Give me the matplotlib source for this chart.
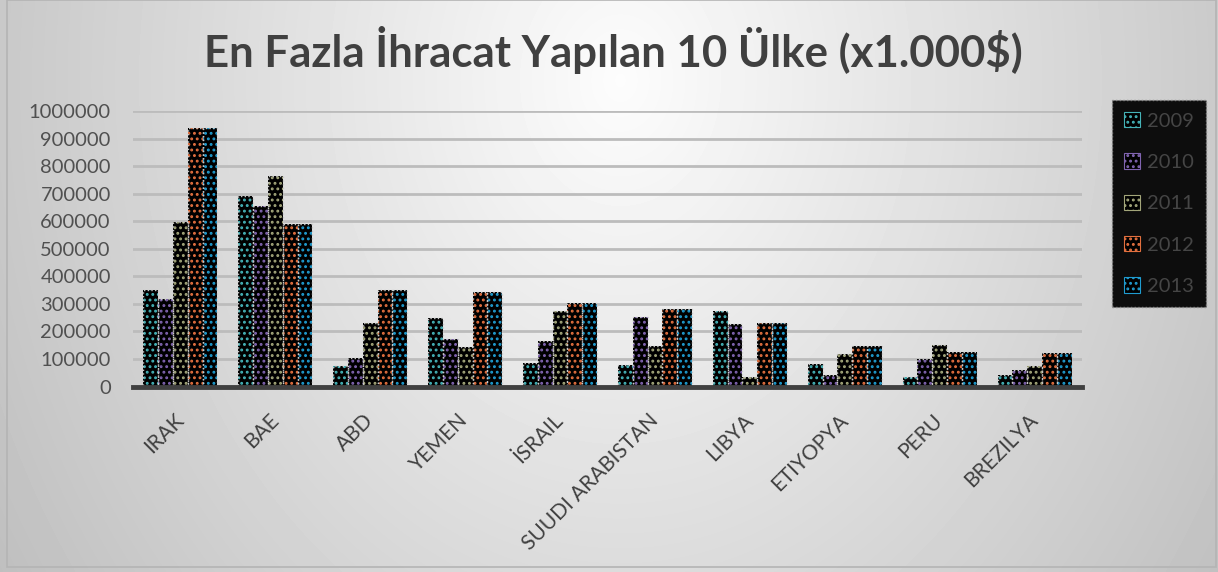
import numpy as np
import matplotlib
matplotlib.use("Agg")
import matplotlib.pyplot as plt
from matplotlib.patches import Patch, Rectangle

plt.rcParams['font.family'] = ['Lato', 'DejaVu Sans']
plt.rcParams['hatch.linewidth'] = 1.3

## Data (x1.000 $)
countries = ["IRAK", "BAE", "ABD", "YEMEN", "İSRAIL", "SUUDI ARABISTAN",
             "LIBYA", "ETIYOPYA", "PERU", "BREZILYA"]
years = ["2009", "2010", "2011", "2012", "2013"]
v2009 = [350000, 693000, 76000, 250000, 86000, 79000, 275000, 83000, 36000, 43000]
v2010 = [316000, 656000, 102000, 171000, 166000, 253000, 228000, 42000, 101000, 61000]
v2011 = [597000, 765000, 229000, 145000, 275000, 148000, 36000, 119000, 152000, 76000]
v2012 = [938000, 591000, 351000, 344000, 304000, 282000, 232000, 147000, 126000, 121000]
v2013 = [938000, 591000, 351000, 344000, 304000, 282000, 232000, 147000, 126000, 121000]
series = [v2009, v2010, v2011, v2012, v2013]
colors = ['#45b3b8', '#8064b0', '#a3a67a', '#e3703f', '#1f9cd0']

W, H = 1218, 572
fig = plt.figure(figsize=(W / 100, H / 100), dpi=100)

# soft radial background
bg = fig.add_axes([0, 0, 1, 1])
yy, xx = np.mgrid[0:H, 0:W]
r = np.sqrt(((xx - 620) / 640.0) ** 2 + ((yy - 80) / 800.0) ** 2)
shade = np.clip(0.99 - 0.21 * r, 0, 1)
bg.imshow(shade, cmap='gray', vmin=0, vmax=1, aspect='auto',
          extent=[0, W, H, 0], interpolation='bilinear')
bg.set_xlim(0, W)
bg.set_ylim(H, 0)
bg.add_patch(Rectangle((7, 0), W - 9, 567, fill=False, edgecolor='#b4b4b4', lw=1.2))
bg.axis('off')

ax = fig.add_axes([133 / W, 1 - 386.5 / H, (1082 - 133) / W, (386.5 - 111) / H])
ax.patch.set_alpha(0)

x = np.arange(len(countries))
bw = 0.156
for i, (vals, c) in enumerate(zip(series, colors)):
    pos = x - 2 * bw + i * bw
    ax.bar(pos, vals, bw, color='black', edgecolor=c, hatch='...', linewidth=0, zorder=3)
    ax.bar(pos, vals, bw, fill=False, edgecolor='#c8c8c8', linestyle=':', linewidth=1.0, zorder=4)

ax.set_xlim(-0.5, len(countries) - 0.5)
ax.set_ylim(0, 1000000)
ax.set_yticks(np.arange(0, 1000001, 100000))
ax.set_yticklabels([str(v) for v in range(0, 1000001, 100000)], fontsize=14.5, color='#505050')
ax.yaxis.grid(True, color='#bcbcbc', linewidth=2, zorder=0)
ax.set_axisbelow(True)
ax.tick_params(axis='y', length=0, pad=16)
ax.tick_params(axis='x', length=0, pad=22)
ax.set_xticks(x)
ax.set_xticklabels(countries, rotation=45, ha='right', va='center', rotation_mode='anchor',
                   fontsize=15, color='#404040')
for s in ['top', 'right', 'left']:
    ax.spines[s].set_visible(False)
ax.spines['bottom'].set_color('#404040')
ax.spines['bottom'].set_linewidth(3.5)
ax.spines['bottom'].set_zorder(5)

fig.text(613 / W, 1 - 50 / H, "En Fazla İhracat Yapılan 10 Ülke (x1.000$)",
         ha='center', va='center', fontsize=31.5, fontweight='bold', color='#404040')

handles = [Patch(facecolor='black', edgecolor=c, hatch='...', linewidth=0.8) for c in colors]
leg = fig.legend(handles, years, loc='upper left', bbox_to_anchor=(1112 / W, 1 - 100 / H),
                 frameon=True, fontsize=14.5, labelspacing=1.17, handlelength=0.8,
                 handleheight=0.8, handletextpad=0.35, borderpad=0.6, fancybox=False,
                 borderaxespad=0)
leg.get_frame().set_facecolor('#0d0d0d')
leg.get_frame().set_edgecolor('#888888')
leg.get_frame().set_linestyle(':')
leg.get_frame().set_alpha(1)
for t in leg.get_texts():
    t.set_color('#454545')

fig.savefig('out.png', dpi=100)
